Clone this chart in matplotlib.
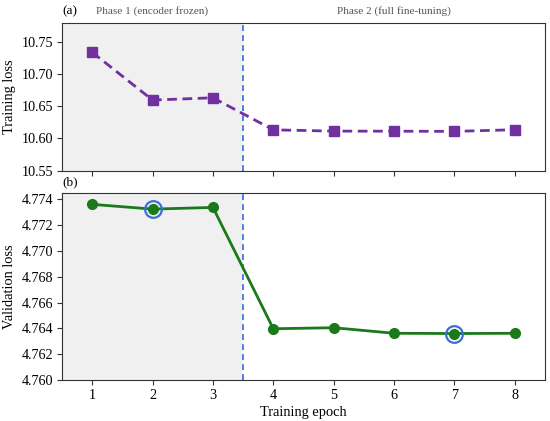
### Imports ###

import matplotlib
matplotlib.use('Agg')
from matplotlib import pyplot as plt

### Data ###

epochs = [1, 2, 3, 4, 5, 6, 7, 8]
train_loss = [10.734, 10.6596, 10.6632, 10.6133, 10.6113, 10.6112, 10.6109, 10.6135]
val_loss = [4.77361, 4.77324, 4.77337, 4.76397, 4.76405, 4.76362, 4.76360, 4.76362]
highlight_epochs = [2, 7]
phase_labels = ['Phase 1 (encoder frozen)', 'Phase 2 (full fine-tuning)']
train_yticks = [10.55, 10.60, 10.65, 10.70, 10.75]
val_yticks = [4.760, 4.762, 4.764, 4.766, 4.768, 4.770, 4.772, 4.774]

### Style ###

plt.rcParams['font.family'] = ['Liberation Serif', 'DejaVu Serif']
plt.rcParams['axes.edgecolor'] = '#333333'

boundary = 3.5
shade = '#f0f0f0'
vline_color = '#2f6ae0'

### Figure ###

fig = plt.figure(figsize=(5.5, 4.21), dpi=100)
ax_top = fig.add_axes([0.1127, 0.595, 0.8783, 0.351])
ax_bot = fig.add_axes([0.1127, 0.0974, 0.8783, 0.4436])

for ax in (ax_top, ax_bot):
    ax.axvspan(0.5, boundary, color=shade, zorder=0, lw=0)
    ax.axvline(boundary, color=vline_color, lw=1.2, ls=(0, (3.5, 2.5)), zorder=1)
    ax.set_xlim(0.5, 8.5)
    ax.set_xticks(epochs)
    ax.tick_params(labelsize=10.2, length=3.5, color='#333333', pad=3)

# Panel (a): training loss
ax_top.plot(epochs, train_loss, color='#7030a0', lw=2, ls=(0, (3.5, 2)),
            marker='s', ms=6.5, zorder=3)
ax_top.set_ylim(10.55, 10.78)
ax_top.set_yticks(train_yticks)
ax_top.set_yticklabels([f'{v:.2f}' for v in train_yticks])
ax_top.tick_params(axis='x', labelbottom=False)
ax_top.set_ylabel('Training loss', fontsize=10.4, labelpad=4)

# Phase labels above the top panel
ax_top.text(2, 1.079, phase_labels[0], transform=ax_top.get_xaxis_transform(),
            ha='center', va='center', fontsize=8.1, color='#555555')
ax_top.text(6, 1.079, phase_labels[1], transform=ax_top.get_xaxis_transform(),
            ha='center', va='center', fontsize=8.1, color='#555555')
ax_top.text(0.0, 1.075, '(a)', transform=ax_top.transAxes,
            ha='left', va='center', fontsize=9.5)

# Panel (b): validation loss
ax_bot.plot(epochs, val_loss, color='#1a7a1a', lw=2, marker='o', ms=7, zorder=3)
hx = [e for e in highlight_epochs]
hy = [val_loss[epochs.index(e)] for e in highlight_epochs]
ax_bot.plot(hx, hy, ls='none', marker='o', ms=12, mfc='none',
            mec='#3a6fd8', mew=1.6, zorder=4)
ax_bot.set_ylim(4.760, 4.77447)
ax_bot.set_yticks(val_yticks)
ax_bot.set_yticklabels([f'{v:.3f}' for v in val_yticks])
ax_bot.set_ylabel('Validation loss', fontsize=10.4, labelpad=4)
ax_bot.set_xlabel('Training epoch', fontsize=10.4, labelpad=3)
ax_bot.text(0.0, 1.058, '(b)', transform=ax_bot.transAxes,
            ha='left', va='center', fontsize=9.5)

fig.savefig('out.png', dpi=100)
